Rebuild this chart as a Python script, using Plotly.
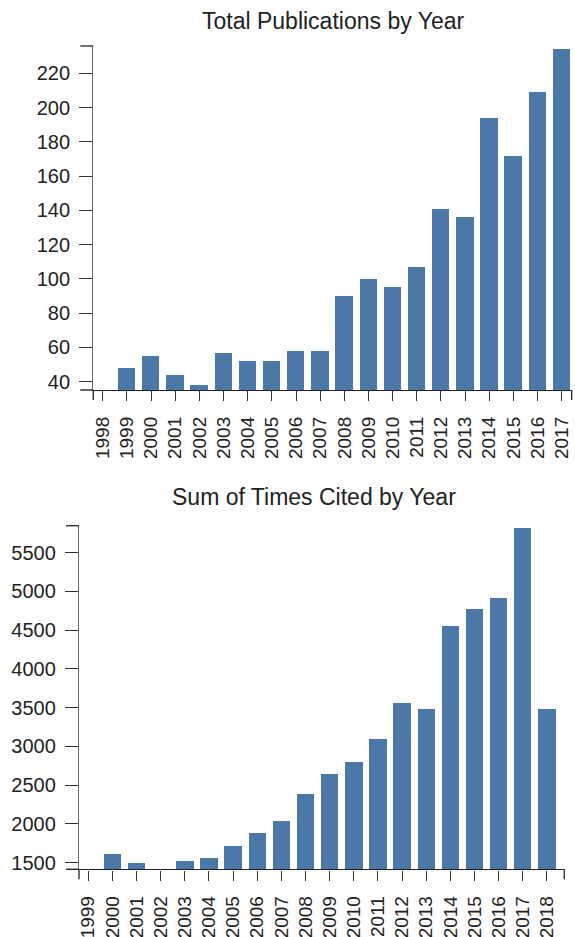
import plotly.graph_objects as go

# ---- data ----
pub_years = list(range(1998, 2018))
pub_counts = [35, 48, 55, 44, 38, 57, 52, 52, 58, 58, 90, 100, 95, 107, 141, 136, 194, 172, 209, 234]

cite_years = list(range(1999, 2019))
cite_sums = [1415, 1610, 1505, 1415, 1522, 1560, 1715, 1883, 2038, 2390, 2645, 2808, 3100, 3561, 3483, 4554, 4782, 4915, 5819, 3483]

pub_yticks = [40, 60, 80, 100, 120, 140, 160, 180, 200, 220]
cite_yticks = [1500, 2000, 2500, 3000, 3500, 4000, 4500, 5000, 5500]

titles = ["Total Publications by Year", "Sum of Times Cited by Year"]

W, H = 575, 937
BAR = "#4c78a8"
FONT = "Liberation Sans, Arial, Helvetica, sans-serif"
TXT = "#222222"

PUB_RANGE = [35.16, 235.9]
CITE_RANGE = [1415, 5848]


def fx(px):
    return px / W


def fy(py):
    return 1 - py / H


def colors(vals, lo):
    return [BAR if v > lo + 1e-9 else "rgba(0,0,0,0)" for v in vals]


fig = go.Figure()
fig.add_trace(go.Bar(x=pub_years, y=pub_counts, width=0.72,
                     marker=dict(color=colors(pub_counts, PUB_RANGE[0]), line=dict(width=0)),
                     xaxis="x", yaxis="y", showlegend=False))
fig.add_trace(go.Bar(x=cite_years, y=cite_sums, width=0.72,
                     marker=dict(color=colors(cite_sums, CITE_RANGE[0]), line=dict(width=0)),
                     xaxis="x2", yaxis="y2", showlegend=False))

common_x = dict(showline=True, linecolor="#222", linewidth=1.4, ticks="outside", ticklen=10,
                tickwidth=1.4, tickcolor="#333", tickangle=-90, showgrid=False, zeroline=False,
                tickfont=dict(family=FONT, size=19, color=TXT), fixedrange=True, automargin=False,
                ticklabelstandoff=8)
common_y = dict(showline=True, linecolor="#666", linewidth=1.4, ticks="outside", ticklen=13,
                tickwidth=1.4, tickcolor="#333", showgrid=False, zeroline=False,
                tickfont=dict(family=FONT, size=20, color=TXT), fixedrange=True, automargin=False,
                ticklabelstandoff=5)

fig.update_layout(
    width=W, height=H, margin=dict(l=0, r=0, t=0, b=0, autoexpand=False),
    paper_bgcolor="white", plot_bgcolor="white",
    xaxis=dict(common_x, domain=[fx(93.3), fx(571.7)], range=[1997.61, 2017.41],
               tickvals=pub_years, ticktext=[str(y) for y in pub_years], anchor="y"),
    yaxis=dict(common_y, domain=[fy(390), fy(46)], range=PUB_RANGE,
               tickvals=pub_yticks, anchor="x"),
    xaxis2=dict(common_x, domain=[fx(79), fx(564.3)], range=[1998.615, 2018.72],
                tickvals=cite_years, ticktext=[str(y) for y in cite_years], anchor="y2"),
    yaxis2=dict(common_y, domain=[fy(869.3), fy(525.7)], range=CITE_RANGE,
                tickvals=cite_yticks, anchor="x2"),
    bargap=0,
)

shapes = []
for xa, ya in [("x", "y"), ("x2", "y2")]:
    # y-axis outer ticks (top and bottom)
    for yv, col in [(1, "#333"), (0, "#222")]:
        shapes.append(dict(type="line", xref=f"{xa} domain", yref=f"{ya} domain",
                           xsizemode="pixel", xanchor=0, x0=-13, x1=0, y0=yv, y1=yv,
                           line=dict(color=col, width=1.4)))
    # x-axis outer ticks (left and right)
    for xv in [0, 1]:
        shapes.append(dict(type="line", xref=f"{xa} domain", yref=f"{ya} domain",
                           ysizemode="pixel", yanchor=0, y0=-10, y1=0, x0=xv, x1=xv,
                           line=dict(color="#333", width=1.4)))
fig.update_layout(shapes=shapes)

fig.add_annotation(text=titles[0], x=fx(332.5), y=fy(21), xref="paper", yref="paper",
                   xanchor="center", yanchor="middle", showarrow=False,
                   font=dict(family=FONT, size=23, color=TXT))
fig.add_annotation(text=titles[1], x=fx(314.3), y=fy(497), xref="paper", yref="paper",
                   xanchor="center", yanchor="middle", showarrow=False,
                   font=dict(family=FONT, size=23, color=TXT))

fig.write_html("out.html", config={"displayModeBar": False},
               post_script="document.body.style.margin='0';document.body.style.padding='0';")
